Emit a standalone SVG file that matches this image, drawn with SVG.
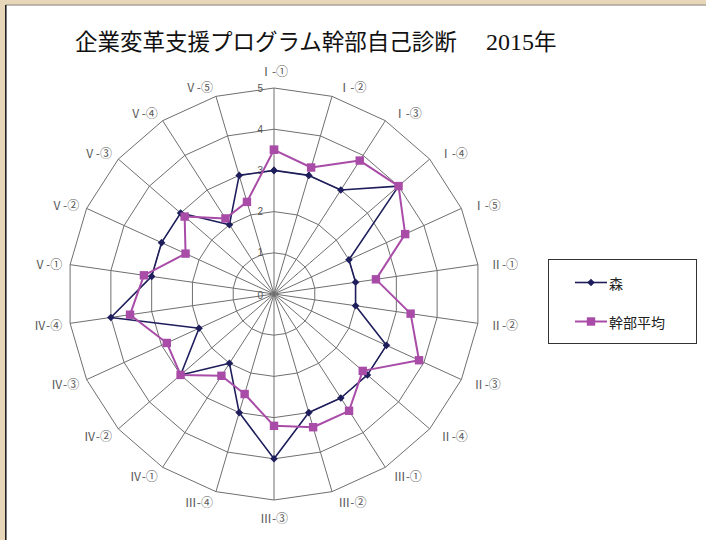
<svg xmlns="http://www.w3.org/2000/svg" width="706" height="540" viewBox="0 0 706 540">
<style>
.grid{fill:none;stroke:#6f6f6f;stroke-width:1}
.ax{font-family:"Noto Sans CJK JP","Liberation Sans",sans-serif;font-size:12px;fill:#5a5a5a;dominant-baseline:central}
.tick{font-family:"Liberation Sans",sans-serif;font-size:10px;fill:#555;text-anchor:end;dominant-baseline:central}
.s1{fill:none;stroke:#1e1e5c;stroke-width:1.6;stroke-linejoin:round}
.s2{fill:none;stroke:#a84ca8;stroke-width:2;stroke-linejoin:round}
.leg{font-family:"Noto Sans CJK JP",sans-serif;font-size:14px;fill:#222;dominant-baseline:central}
</style>
<defs>
<marker id="dia" markerUnits="userSpaceOnUse" markerWidth="10" markerHeight="10" refX="5" refY="5" overflow="visible"><path d="M5,1.2 L8.8,5 L5,8.8 L1.2,5Z" fill="#1e1e5c"/></marker>
<marker id="sq" markerUnits="userSpaceOnUse" markerWidth="10" markerHeight="10" refX="5" refY="5" overflow="visible"><rect x="0.8" y="0.8" width="8.4" height="8.4" fill="#a84ca8"/></marker>
</defs>
<rect x="0" y="0" width="706" height="540" fill="#e8d6b8"/>
<rect x="6" y="5.5" width="700" height="534.5" fill="#ffffff"/>
<line x1="5.5" y1="5" x2="706" y2="5" stroke="#8a8a8a" stroke-width="1"/>
<line x1="5.8" y1="5" x2="5.8" y2="540" stroke="#222" stroke-width="1.6"/>
<text x="75" y="50" font-family="Liberation Serif,'Noto Sans CJK JP',serif" font-size="22.5" fill="#111">企業変革支援プログラム幹部自己診断</text>
<text x="486" y="50" font-family="Liberation Serif,'Noto Sans CJK JP',serif" font-size="24" fill="#111">2015<tspan font-size="22.5">年</tspan></text>
<g id="grid">
<polygon class="grid" points="274,252.8 285.61,254.47 296.27,259.34 305.14,267.02 311.48,276.88 314.78,288.14 314.78,299.86 311.48,311.12 305.14,320.98 296.27,328.66 285.61,333.53 274,335.2 262.39,333.53 251.73,328.66 242.86,320.98 236.52,311.12 233.22,299.86 233.22,288.14 236.52,276.88 242.86,267.02 251.73,259.34 262.39,254.47"/>
<polygon class="grid" points="274,211.6 297.21,214.94 318.55,224.68 336.27,240.04 348.95,259.77 355.56,282.27 355.56,305.73 348.95,328.23 336.27,347.96 318.55,363.32 297.21,373.06 274,376.4 250.79,373.06 229.45,363.32 211.73,347.96 199.05,328.23 192.44,305.73 192.44,282.27 199.05,259.77 211.73,240.04 229.45,224.68 250.79,214.94"/>
<polygon class="grid" points="274,170.4 308.82,175.41 340.82,190.02 367.41,213.06 386.43,242.65 396.34,276.41 396.34,311.59 386.43,345.35 367.41,374.94 340.82,397.98 308.82,412.59 274,417.6 239.18,412.59 207.18,397.98 180.59,374.94 161.57,345.35 151.66,311.59 151.66,276.41 161.57,242.65 180.59,213.06 207.18,190.02 239.18,175.41"/>
<polygon class="grid" points="274,129.2 320.43,135.88 363.1,155.36 398.55,186.08 423.91,225.54 437.12,270.55 437.12,317.45 423.91,362.46 398.55,401.92 363.1,432.64 320.43,452.12 274,458.8 227.57,452.12 184.9,432.64 149.45,401.92 124.09,362.46 110.88,317.45 110.88,270.55 124.09,225.54 149.45,186.08 184.9,155.36 227.57,135.88"/>
<polygon class="grid" points="274,88 332.04,96.35 385.37,120.7 429.68,159.1 461.38,208.42 477.9,264.68 477.9,323.32 461.38,379.58 429.68,428.9 385.37,467.3 332.04,491.65 274,500 215.96,491.65 162.63,467.3 118.32,428.9 86.62,379.58 70.1,323.32 70.1,264.68 86.62,208.42 118.32,159.1 162.63,120.7 215.96,96.35"/>
<path class="grid" d="M274,294L274,88M274,294L332.04,96.35M274,294L385.37,120.7M274,294L429.68,159.1M274,294L461.38,208.42M274,294L477.9,264.68M274,294L477.9,323.32M274,294L461.38,379.58M274,294L429.68,428.9M274,294L385.37,467.3M274,294L332.04,491.65M274,294L274,500M274,294L215.96,491.65M274,294L162.63,467.3M274,294L118.32,428.9M274,294L86.62,379.58M274,294L70.1,323.32M274,294L70.1,264.68M274,294L86.62,208.42M274,294L118.32,159.1M274,294L162.63,120.7M274,294L215.96,96.35"/>
</g>
<g id="ticks">
<text class="tick" x="263" y="88">5</text>
<text class="tick" x="263" y="129.2">4</text>
<text class="tick" x="263" y="170.4">3</text>
<text class="tick" x="263" y="211.6">2</text>
<text class="tick" x="263" y="252.8">1</text>
<text class="tick" x="263" y="295">0</text>
</g>
<g id="axis-labels">
<text class="ax" x="274" y="70" text-anchor="middle">Ⅰ-①</text>
<text class="ax" x="338.3" y="86.8">Ⅰ-②</text>
<text class="ax" x="393.7" y="112.3">Ⅰ-③</text>
<text class="ax" x="439.7" y="152.6">Ⅰ-④</text>
<text class="ax" x="472.7" y="204.3">Ⅰ-⑤</text>
<text class="ax" x="489.9" y="263.3">Ⅱ-①</text>
<text class="ax" x="489.9" y="324.7">Ⅱ-②</text>
<text class="ax" x="472.7" y="383.7">Ⅱ-③</text>
<text class="ax" x="439.7" y="435.5">Ⅱ-④</text>
<text class="ax" x="393.7" y="475.7">Ⅲ-①</text>
<text class="ax" x="338.3" y="501.2">Ⅲ-②</text>
<text class="ax" x="274" y="517" text-anchor="middle">Ⅲ-③</text>
<text class="ax" x="213" y="501.2" text-anchor="end">Ⅲ-④</text>
<text class="ax" x="157.8" y="475.7" text-anchor="end">Ⅳ-①</text>
<text class="ax" x="112" y="435.5" text-anchor="end">Ⅳ-②</text>
<text class="ax" x="79.2" y="383.7" text-anchor="end">Ⅳ-③</text>
<text class="ax" x="62.2" y="324.7" text-anchor="end">Ⅳ-④</text>
<text class="ax" x="62.2" y="263.3" text-anchor="end">Ⅴ-①</text>
<text class="ax" x="79.2" y="204.3" text-anchor="end">Ⅴ-②</text>
<text class="ax" x="112" y="152.6" text-anchor="end">Ⅴ-③</text>
<text class="ax" x="157.8" y="112.3" text-anchor="end">Ⅴ-④</text>
<text class="ax" x="213" y="86.8" text-anchor="end">Ⅴ-⑤</text>
</g>
<g id="series">
<polygon id="mori" class="s1" marker-start="url(#dia)" marker-mid="url(#dia)" marker-end="url(#dia)" points="274,170.4 308.82,175.41 340.82,190.02 398.55,186.08 348.95,259.77 355.56,282.27 355.56,305.73 386.43,345.35 367.41,374.94 340.82,397.98 308.82,412.59 274,458.8 239.18,412.59 229.45,363.32 180.59,374.94 199.05,328.23 110.88,317.45 151.66,276.41 161.57,242.65 180.59,213.06 229.45,224.68 239.18,175.41"/>
<polygon id="avg" class="s2" marker-start="url(#sq)" marker-mid="url(#sq)" marker-end="url(#sq)" points="274,149.8 311.14,167.5 359.76,160.56 398.55,186.08 405.17,234.1 375.95,279.34 410.61,313.64 419.03,360.24 362.74,370.89 349.06,410.8 313.12,427.22 274,425.84 244.63,394.02 221.43,375.8 180.59,374.94 166.82,342.95 130.04,314.7 143.91,275.3 185.56,253.61 184.64,216.57 225.44,218.44 246.95,201.89"/>
</g>
<g id="legend">
<rect x="548.5" y="259.5" width="148" height="84" fill="#fff" stroke="#333" stroke-width="1"/>
<polyline class="s1" points="575,282.5 591,282.5 607,282.5" marker-mid="url(#dia)"/>
<text class="leg" x="609" y="282.5">森</text>
<polyline class="s2" points="575,321.5 591,321.5 607,321.5" marker-mid="url(#sq)"/>
<text class="leg" x="609" y="321.5">幹部平均</text>
</g>
</svg>
